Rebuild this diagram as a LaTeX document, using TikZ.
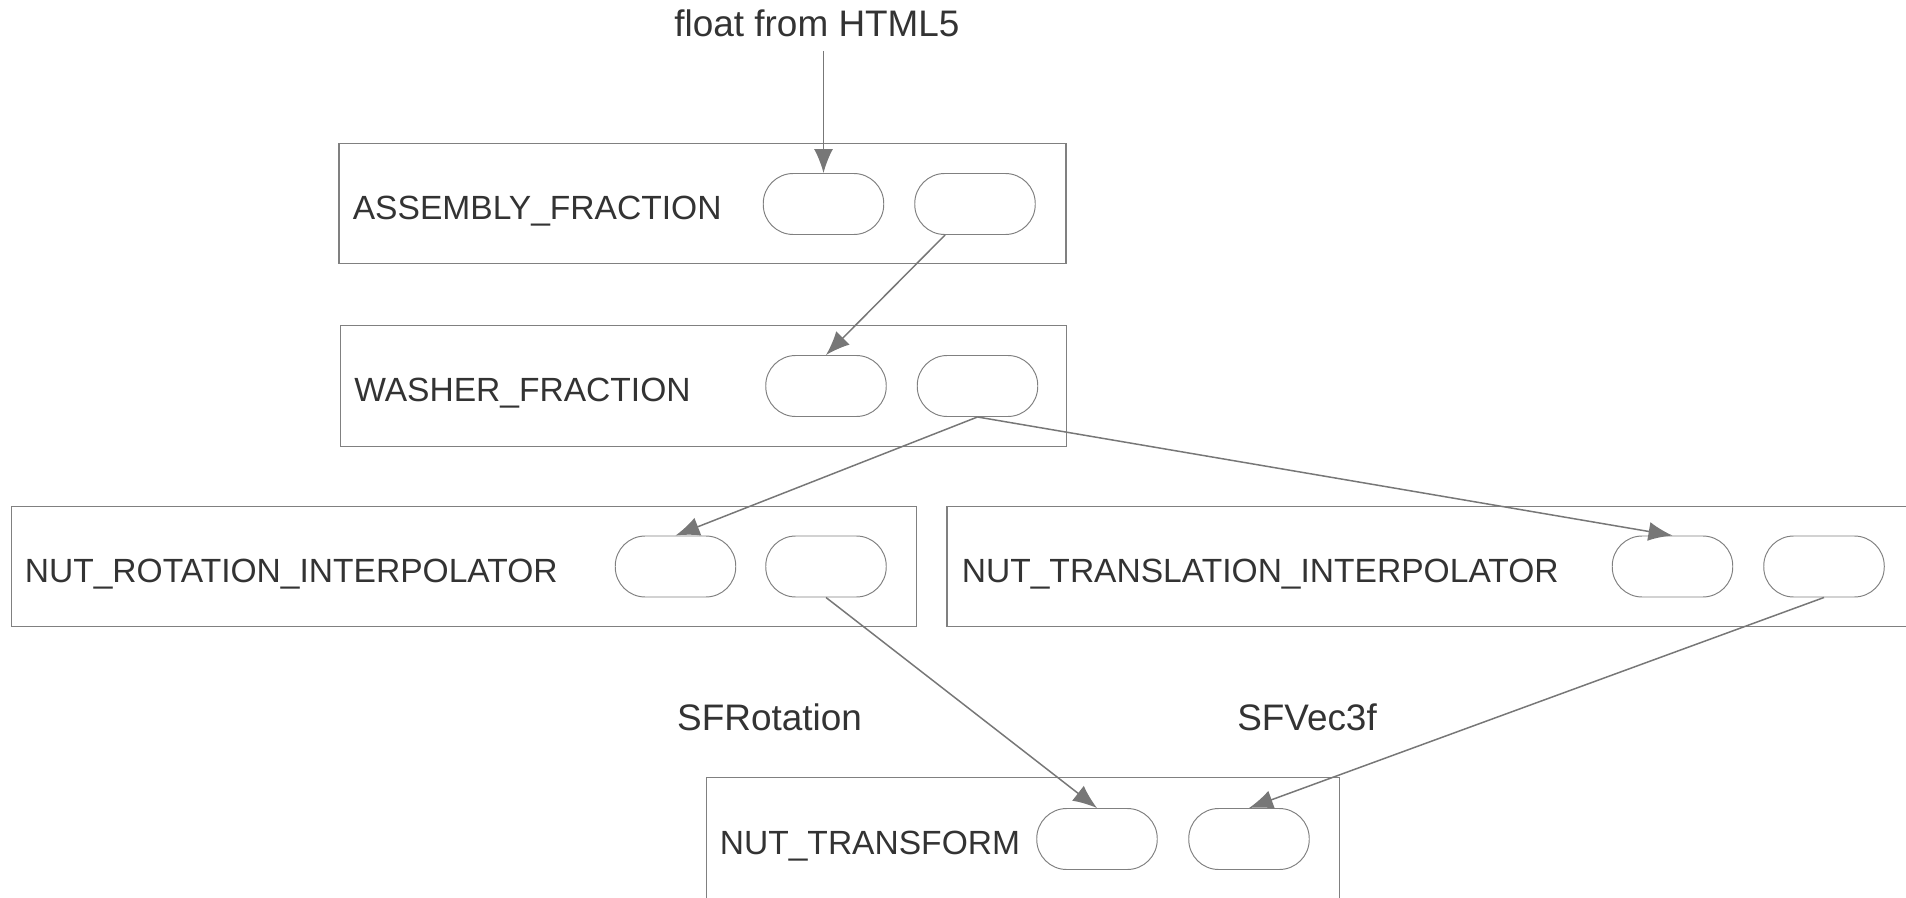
\documentclass[tikz,border=0pt]{standalone}
\usepackage{fontspec}
\setmainfont{Liberation Sans}
\usetikzlibrary{arrows.meta}

\definecolor{linegray}{HTML}{808080}
\definecolor{wiregray}{HTML}{777777}
\definecolor{textgray}{HTML}{333333}

\tikzset{
  nodebox/.style={draw=linegray, line width=0.75pt, minimum height=2.41cm, inner sep=0pt},
  field/.style={draw=linegray, line width=0.55pt, rounded corners=0.6cm,
    minimum width=2.41cm, minimum height=1.22cm, inner sep=0pt},
  boxname/.style={anchor=base west, text=textgray, inner sep=0pt,
    font=\fontsize{19.1}{23}\selectfont},
  wirelabel/.style={anchor=base, text=textgray, inner sep=0pt,
    font=\fontsize{21}{25}\selectfont},
  route/.style={draw=wiregray, line width=0.85pt, -{Latex[length=0.48cm,width=0.38cm]}}
}

\begin{document}
\begin{tikzpicture}[]
            \useasboundingbox (0,0) rectangle (38.12,-17.96);
            \clip (0,0) rectangle (38.12,-17.96);

            % fraction nodes
            \node (assembly) at (14.05,-4.07) [nodebox, minimum width=14.54cm] {};
            \node (assemblyName) at (7.05,-4.40) [boxname] {ASSEMBLY\_FRACTION};
            \node (assemblyIn) at (16.47,-4.08) [field] {};
            \node (assemblyOut) at (19.50,-4.08) [field] {};

            \node (washer) at (14.07,-7.72) [nodebox, minimum width=14.51cm] {};
            \node (washerName) at (7.08,-8.02) [boxname] {WASHER\_FRACTION};
            \node (washerIn) at (16.52,-7.72) [field] {};
            \node (washerOut) at (19.55,-7.72) [field] {};

            % interpolators
            \node (rotation) at (9.28,-11.33) [nodebox, minimum width=18.11cm] {};
            \node (rotationName) at (0.49,-11.65) [boxname] {NUT\_ROTATION\_INTERPOLATOR};
            \node (rotationIn) at (13.51,-11.33) [field] {};
            \node (rotationOut) at (16.52,-11.33) [field] {};

            \node (translation) at (28.70,-11.33) [nodebox, minimum width=19.52cm] {};
            \node (translationName) at (19.23,-11.65) [boxname] {NUT\_TRANSLATION\_INTERPOLATOR};
            \node (translationIn) at (33.45,-11.33) [field] {};
            \node (translationOut) at (36.48,-11.33) [field] {};

            % transform
            \node (transform) at (20.46,-16.78) [nodebox, minimum width=12.66cm, minimum height=2.45cm] {};
            \node (transformName) at (14.39,-17.09) [boxname] {NUT\_TRANSFORM};
            \node (transformRot) at (21.94,-16.78) [field] {};
            \node (transformPos) at (24.98,-16.78) [field] {};

            % routes
            \node (source) at (16.34,-0.74) [wirelabel] {float from HTML5};
            \coordinate (sourceEnd) at (16.47,-1.02);
            \draw [route] (sourceEnd) -- (assemblyIn.north);
            \draw [route] (assemblyOut.-134) -- (washerIn.north);
            \draw [route] (washerOut.south) -- (rotationIn.north);
            \draw [route] (washerOut.south) -- (translationIn.north);
            \draw [route] (rotationOut.south) -- (transformRot.north);
            \draw [route] (translationOut.south) -- (transformPos.north);

            \node (rotationType) at (15.39,-14.60) [wirelabel] {SFRotation};
            \node (vectorType) at (26.14,-14.60) [wirelabel] {SFVec3f};
        \end{tikzpicture}
\end{document}
